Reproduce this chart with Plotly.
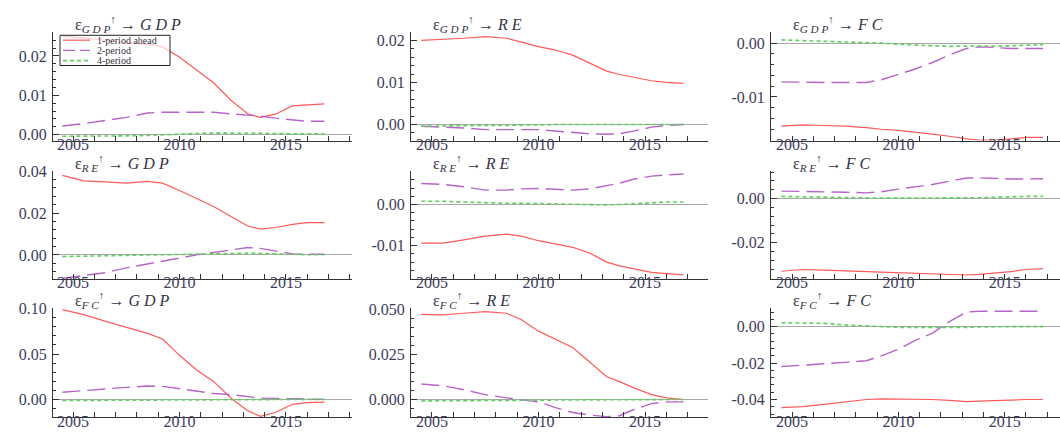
import math
import plotly.graph_objects as go
from plotly.subplots import make_subplots

# Common horizon grid (years)
years = [2004.5, 2005.5, 2006.5, 2007.5, 2008.5, 2009.2, 2010.0, 2010.8,
         2011.6, 2012.4, 2013.2, 2013.8, 2014.5, 2015.3, 2016.0, 2016.8]

series_names = ["1-period ahead", "2-period", "4-period"]

# Row 1: GDP shock
gdp_gdp_1 = [0.0250, 0.0246, 0.0240, 0.0234, 0.0230, 0.0223, 0.0197, 0.0165, 0.0132, 0.0088, 0.0053, 0.0044, 0.0052, 0.0073, 0.0076, 0.0078]
gdp_gdp_2 = [0.0022, 0.0028, 0.0036, 0.0044, 0.0055, 0.0057, 0.0057, 0.0057, 0.0057, 0.0053, 0.0050, 0.0047, 0.0042, 0.0037, 0.0034, 0.0034]
gdp_gdp_4 = [-0.0004, -0.0004, -0.0003, -0.0003, -0.0002, 0.0, 0.0002, 0.0003, 0.0004, 0.0004, 0.0004, 0.0004, 0.0003, 0.0002, 0.0002, 0.0002]

gdp_re_1 = [0.0200, 0.0202, 0.0205, 0.0209, 0.0205, 0.0196, 0.0185, 0.0177, 0.0165, 0.0146, 0.0127, 0.0119, 0.0112, 0.0104, 0.0100, 0.0098]
gdp_re_2 = [-0.0004, -0.0006, -0.0008, -0.0012, -0.0013, -0.0012, -0.0012, -0.0015, -0.0019, -0.0022, -0.0023, -0.0022, -0.0015, -0.0006, -0.0002, 0.0]
gdp_re_4 = [-0.0004, -0.0003, -0.0003, -0.0002, -0.0002, -0.0001, -0.0001, 0.0, 0.0, 0.0, 0.0, 0.0, 0.0, 0.0, 0.0, 0.0]

gdp_fc_1 = [-0.0154, -0.0152, -0.0153, -0.0154, -0.0157, -0.0160, -0.0162, -0.0165, -0.0169, -0.0173, -0.0178, -0.0180, -0.0180, -0.0178, -0.0175, -0.0175]
gdp_fc_2 = [-0.0072, -0.0073, -0.0073, -0.0073, -0.0073, -0.0068, -0.0058, -0.0048, -0.0036, -0.0022, -0.0010, -0.0007, -0.0008, -0.0010, -0.0010, -0.0010]
gdp_fc_4 = [0.0006, 0.0005, 0.0004, 0.0002, 0.0001, 0.0, -0.0002, -0.0004, -0.0005, -0.0006, -0.0006, -0.0006, -0.0006, -0.0005, -0.0004, -0.0003]

# Row 2: RE shock
re_gdp_1 = [0.0380, 0.0354, 0.0349, 0.0343, 0.0351, 0.0343, 0.0308, 0.0269, 0.0231, 0.0185, 0.0138, 0.0123, 0.0131, 0.0146, 0.0154, 0.0154]
re_gdp_2 = [-0.0112, -0.0100, -0.0085, -0.0062, -0.0042, -0.0031, -0.0015, 0.0, 0.0011, 0.0023, 0.0035, 0.0031, 0.0018, 0.0005, 0.0003, 0.0003]
re_gdp_4 = [-0.0008, -0.0006, -0.0005, -0.0004, -0.0003, -0.0002, 0.0, 0.0002, 0.0004, 0.0006, 0.0008, 0.0007, 0.0004, 0.0002, 0.0001, 0.0001]

re_re_1 = [-0.0094, -0.0094, -0.0086, -0.0077, -0.0072, -0.0077, -0.0088, -0.0096, -0.0104, -0.0118, -0.0140, -0.0149, -0.0157, -0.0165, -0.0168, -0.0171]
re_re_2 = [0.0051, 0.0049, 0.0043, 0.0035, 0.0035, 0.0038, 0.0039, 0.0037, 0.0035, 0.0038, 0.0045, 0.0052, 0.0062, 0.0069, 0.0072, 0.0074]
re_re_4 = [0.0008, 0.0008, 0.0006, 0.0004, 0.0003, 0.0003, 0.0002, 0.0001, 0.0, -0.0001, -0.0001, 0.0, 0.0002, 0.0005, 0.0006, 0.0006]

re_fc_1 = [-0.0329, -0.0321, -0.0324, -0.0329, -0.0331, -0.0333, -0.0336, -0.0339, -0.0340, -0.0343, -0.0346, -0.0343, -0.0337, -0.0331, -0.0321, -0.0317]
re_fc_2 = [0.0034, 0.0033, 0.0031, 0.0029, 0.0026, 0.0031, 0.0043, 0.0054, 0.0064, 0.0079, 0.0093, 0.0094, 0.0091, 0.0089, 0.0089, 0.0090]
re_fc_4 = [0.0010, 0.0008, 0.0005, 0.0003, 0.0002, 0.0002, 0.0002, 0.0002, 0.0002, 0.0002, 0.0003, 0.0004, 0.0006, 0.0009, 0.0010, 0.0010]

# Row 3: FC shock
fc_gdp_1 = [0.0989, 0.0935, 0.0863, 0.0799, 0.0727, 0.0665, 0.0486, 0.0324, 0.0198, 0.0018, -0.0126, -0.0187, -0.0144, -0.0054, -0.0036, -0.0029]
fc_gdp_2 = [0.0079, 0.0101, 0.0115, 0.0133, 0.0147, 0.0144, 0.0115, 0.0090, 0.0065, 0.0054, 0.0029, 0.0014, 0.0011, 0.0007, 0.0004, 0.0]
fc_gdp_4 = [-0.0012, -0.0011, -0.0009, -0.0006, -0.0004, -0.0002, 0.0, 0.0002, 0.0003, 0.0004, 0.0004, 0.0003, 0.0002, 0.0001, 0.0, 0.0]

fc_re_1 = [0.0471, 0.0468, 0.0477, 0.0486, 0.0477, 0.0441, 0.0378, 0.0333, 0.0288, 0.0207, 0.0126, 0.0099, 0.0063, 0.0027, 0.0009, 0.0]
fc_re_2 = [0.0086, 0.0076, 0.0054, 0.0027, 0.0009, 0.0, -0.0014, -0.0045, -0.0072, -0.0086, -0.0095, -0.0090, -0.0054, -0.0023, -0.0013, -0.0013]
fc_re_4 = [-0.0008, -0.0008, -0.0007, -0.0006, -0.0005, -0.0004, -0.0004, -0.0003, -0.0003, -0.0003, -0.0002, -0.0002, -0.0002, -0.0001, 0.0, 0.0]

fc_fc_1 = [-0.0444, -0.0439, -0.0427, -0.0415, -0.0400, -0.0396, -0.0396, -0.0396, -0.0400, -0.0405, -0.0412, -0.0409, -0.0405, -0.0404, -0.0400, -0.0400]
fc_fc_2 = [-0.0219, -0.0213, -0.0204, -0.0196, -0.0187, -0.0160, -0.0124, -0.0076, -0.0036, 0.0027, 0.0080, 0.0084, 0.0084, 0.0080, 0.0080, 0.0084]
fc_fc_4 = [0.0021, 0.0021, 0.0018, 0.0009, 0.0002, 0.0, -0.0004, -0.0005, -0.0005, -0.0005, -0.0004, -0.0002, 0.0, 0.0, 0.0, 0.0]

shock_labels = ["GDP", "RE", "FC"]
response_labels = ["GDP", "RE", "FC"]
x_tick_labels = [2005, 2010, 2015]

panels = [
    [(gdp_gdp_1, gdp_gdp_2, gdp_gdp_4), (gdp_re_1, gdp_re_2, gdp_re_4), (gdp_fc_1, gdp_fc_2, gdp_fc_4)],
    [(re_gdp_1, re_gdp_2, re_gdp_4), (re_re_1, re_re_2, re_re_4), (re_fc_1, re_fc_2, re_fc_4)],
    [(fc_gdp_1, fc_gdp_2, fc_gdp_4), (fc_re_1, fc_re_2, fc_re_4), (fc_fc_1, fc_fc_2, fc_fc_4)],
]

# ---- styling / layout (not data) ----
W, H = 1060, 435
col_px = [(53, 352), (411, 708), (771, 1060)]
row_px = [(25, 136), (167, 278), (308, 420)]
x_ranges = [(2004.06, 2018.1), (2004.02, 2017.95), (2004.01, 2017.6)]
y_setup = [
    [((-0.0015, 0.026), 0.01, 0.002, 2), ((-0.0038, 0.0219), 0.01, 0.002, 2), ((-0.0181, 0.002), 0.01, 0.002, 2)],
    [((-0.0115, 0.0402), 0.02, 0.004, 2), ((-0.0181, 0.0082), 0.01, 0.002, 2), ((-0.0364, 0.0126), 0.02, 0.004, 2)],
    [((-0.0198, 0.1005), 0.05, 0.01, 2), ((-0.0099, 0.0505), 0.025, 0.005, 3), ((-0.0498, 0.0101), 0.02, 0.004, 2)],
]

colors = ["#ff5a5a", "#b565c8", "#5fcf5f"]
dashes = ["solid", "18px,7px", "4px,3px"]
widths = [1.2, 1.4, 1.6]
tick_color = "#3c3c5a"
axis_color = "#333333"
font_family = "Liberation Serif, DejaVu Serif, serif"

fig = make_subplots(rows=3, cols=3)

for r in range(3):
    for c in range(3):
        for k in range(3):
            fig.add_trace(go.Scatter(
                x=years, y=panels[r][c][k], mode="lines",
                name=series_names[k],
                line=dict(color=colors[k], width=widths[k], dash=dashes[k]),
                showlegend=False,
            ), row=r + 1, col=c + 1)

        idx = r * 3 + c + 1
        xa = "xaxis" if idx == 1 else f"xaxis{idx}"
        ya = "yaxis" if idx == 1 else f"yaxis{idx}"
        x0, x1 = col_px[c]
        y0, y1 = row_px[r]
        (lo, hi), dt, mdt, dec = y_setup[r][c]
        n0 = math.ceil(lo / dt - 1e-9)
        n1 = math.floor(hi / dt + 1e-9)
        tv = [n * dt for n in range(n0, n1 + 1)]
        tt = ["%.*f" % (dec, abs(v)) if abs(v) < 1e-12 else "%.*f" % (dec, v) for v in tv]
        fig.layout[xa].update(
            domain=[x0 / W, x1 / W], range=list(x_ranges[c]),
            showgrid=False, zeroline=False, showline=True, linecolor=axis_color, linewidth=1,
            tickmode="array", tickvals=x_tick_labels, ticktext=[str(v) for v in x_tick_labels],
            ticks="inside", ticklen=5, tickcolor=axis_color, ticklabelstandoff=-11,
            minor=dict(tickmode="linear", tick0=2004, dtick=1, ticks="inside", ticklen=5, tickcolor=axis_color, showgrid=False),
            tickfont=dict(family=font_family, size=16, color=tick_color),
        )
        fig.layout[ya].update(
            domain=[1 - y1 / H, 1 - y0 / H], range=[lo, hi],
            showgrid=False, zeroline=True, zerolinecolor="#a8a8a8", zerolinewidth=1,
            showline=True, linecolor=axis_color, linewidth=1,
            tickmode="array", tickvals=tv, ticktext=tt,
            ticks="inside", ticklen=6, tickcolor=axis_color, ticklabelstandoff=2,
            minor=dict(tickmode="linear", tick0=0, dtick=mdt, ticks="inside", ticklen=3, tickcolor=axis_color, showgrid=False),
            tickfont=dict(family=font_family, size=16, color=tick_color),
        )
        title = ("ε<sub><i>%s</i></sub><sup>↑</sup> → <i>%s</i>"
                 % (" ".join(shock_labels[r]), " ".join(response_labels[c])))
        fig.add_annotation(
            xref="paper", yref="paper", x=(x0 + 20) / W, y=1 - (y0 + 5) / H,
            xanchor="left", yanchor="bottom", showarrow=False, text=title,
            font=dict(family=font_family, size=16, color="#333344"),
        )

# Compact legend box drawn inside the first panel (paper coordinates)
leg_x0, leg_x1, leg_y0, leg_y1 = 60, 170, 28, 59
fig.add_shape(type="rect", xref="paper", yref="paper",
              x0=leg_x0 / W, x1=leg_x1 / W, y0=1 - leg_y1 / H, y1=1 - leg_y0 / H,
              line=dict(color="#222222", width=1), fillcolor="rgba(255,255,255,0.7)", layer="above")
for k, nm in enumerate(series_names):
    yy = 1 - (33 + 10.5 * k) / H
    fig.add_shape(type="line", xref="paper", yref="paper",
                  x0=63 / W, x1=90 / W, y0=yy, y1=yy, layer="above",
                  line=dict(color=colors[k], width=widths[k], dash=dashes[k] if k != 1 else "12px,5px"))
    fig.add_annotation(xref="paper", yref="paper", x=96 / W, y=yy, xanchor="left", yanchor="middle",
                       showarrow=False, text=nm, borderpad=0,
                       font=dict(family=font_family, size=10, color="#333344"))

fig.update_layout(
    width=W, height=H, margin=dict(l=0, r=0, t=0, b=0),
    paper_bgcolor="white", plot_bgcolor="white",
    showlegend=False,
)

fig.write_html("out.html")
